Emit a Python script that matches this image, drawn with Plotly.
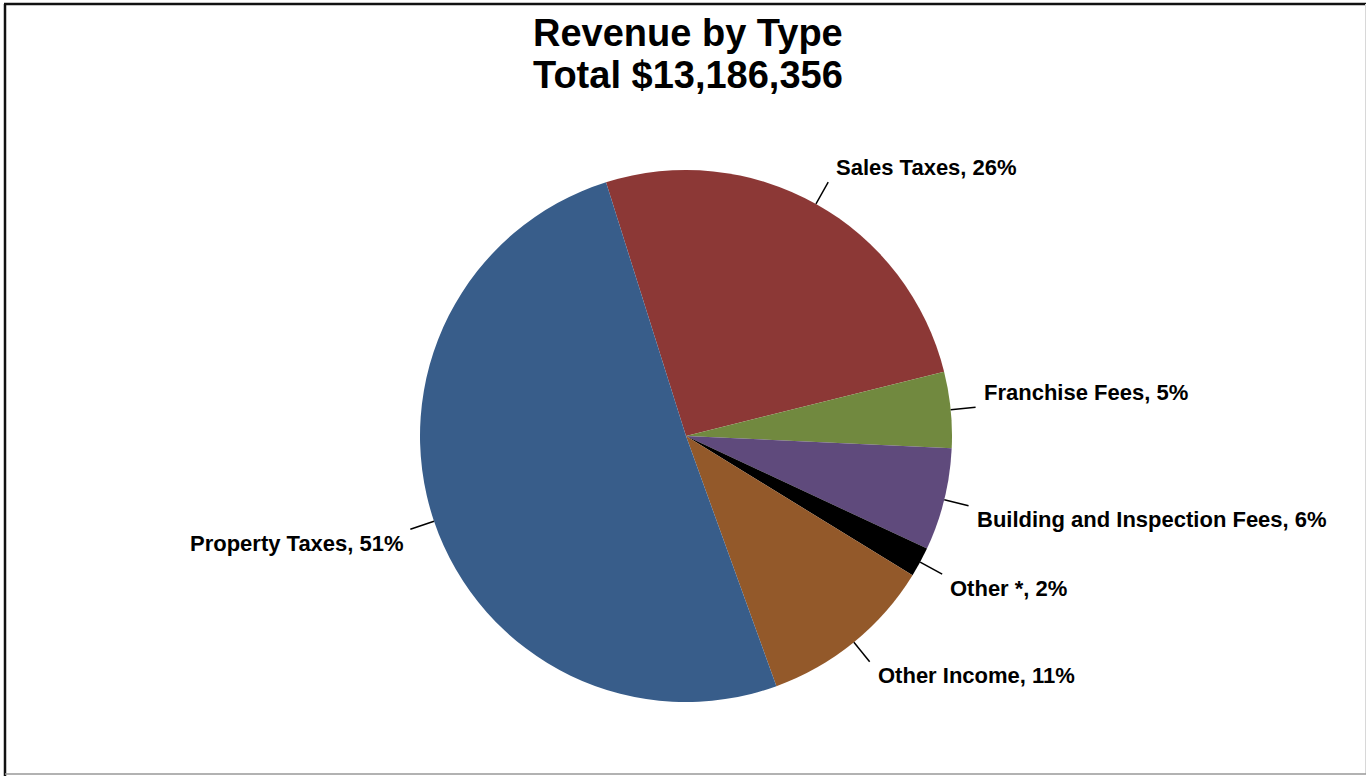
import math
import plotly.graph_objects as go

# Revenue categories, in slice order (clockwise)
categories = [
    "Sales Taxes",
    "Franchise Fees",
    "Building and Inspection Fees",
    "Other *",
    "Other Income",
    "Property Taxes",
]
amounts = [3425000, 610000, 820000, 240000, 1411356, 6680000]
slice_colors = ["#8C3836", "#71893F", "#5F4A7C", "#000000", "#93592A", "#385D8A"]

W, H = 1367, 776
CX, CY, R = 686, 436, 266          # pie centre and radius in pixels
ROTATION = -17.5                    # start angle of the first slice (deg, clockwise from 12 o'clock)
LEADER = 25                         # leader line length beyond the rim
FONT = "Liberation Sans, Arial, sans-serif"

total = sum(amounts)


def px(x, y):
    """pixel position -> paper coordinates (margins are zero)"""
    return x / W, 1 - y / H


fig = go.Figure()
fig.add_trace(go.Pie(
    labels=categories,
    values=amounts,
    sort=False,
    direction="clockwise",
    rotation=ROTATION,
    marker=dict(colors=slice_colors, line=dict(width=0)),
    textinfo="none",
    hoverinfo="label+value+percent",
    showlegend=False,
    domain=dict(x=[(CX - R) / W, (CX + R) / W],
                y=[1 - (CY + R) / H, 1 - (CY - R) / H]),
))

shapes = []
annotations = []

# leader lines and outside labels placed at each slice's mid angle
start = ROTATION
for name, v in zip(categories, amounts):
    frac = v / total
    mid = math.radians(start + 180 * frac)
    start += 360 * frac
    sx, sy = CX + R * math.sin(mid), CY - R * math.cos(mid)
    ex, ey = CX + (R + LEADER) * math.sin(mid), CY - (R + LEADER) * math.cos(mid)
    x0, y0 = px(sx, sy)
    x1, y1 = px(ex, ey)
    shapes.append(dict(type="line", xref="paper", yref="paper",
                       x0=x0, y0=y0, x1=x1, y1=y1,
                       line=dict(color="#000000", width=1.5)))
    right_side = math.sin(mid) >= 0
    upper = math.cos(mid) > 0
    tx = ex + (6 if right_side else -4)
    ty = ey + (-15 if upper else 14)
    lx, ly = px(tx, ty)
    annotations.append(dict(
        xref="paper", yref="paper", x=lx, y=ly,
        xanchor="left" if right_side else "right", yanchor="middle",
        text=f"{name}, {round(frac * 100)}%", showarrow=False,
        font=dict(family=FONT, size=22, color="#000000", weight="bold"),
    ))

# two-line title
for text, ty in [("Revenue by Type", 33), (f"Total ${total:,}", 75)]:
    tx, tyy = px(688, ty)
    annotations.append(dict(
        xref="paper", yref="paper", x=tx, y=tyy,
        xanchor="center", yanchor="middle", text=text, showarrow=False,
        font=dict(family=FONT, size=38, color="#000000", weight="bold"),
    ))

# chart frame
for (ax0, ay0, ax1, ay1, col, w) in [
    (5, 4, 5, 776, "#111111", 2.5),
    (4, 4, 1366, 4, "#111111", 2.5),
    (1365.5, 4, 1365.5, 774, "#D8D8D8", 1),
    (5, 774, 1366, 774, "#999999", 1.5),
]:
    a, b = px(ax0, ay0)
    c, d = px(ax1, ay1)
    shapes.append(dict(type="line", xref="paper", yref="paper",
                       x0=a, y0=b, x1=c, y1=d, line=dict(color=col, width=w)))

fig.update_layout(
    width=W, height=H,
    margin=dict(l=0, r=0, t=0, b=0),
    paper_bgcolor="#FFFFFF",
    plot_bgcolor="#FFFFFF",
    shapes=shapes,
    annotations=annotations,
    font=dict(family=FONT),
)

fig.write_html("out.html", config=dict(displayModeBar=False))
